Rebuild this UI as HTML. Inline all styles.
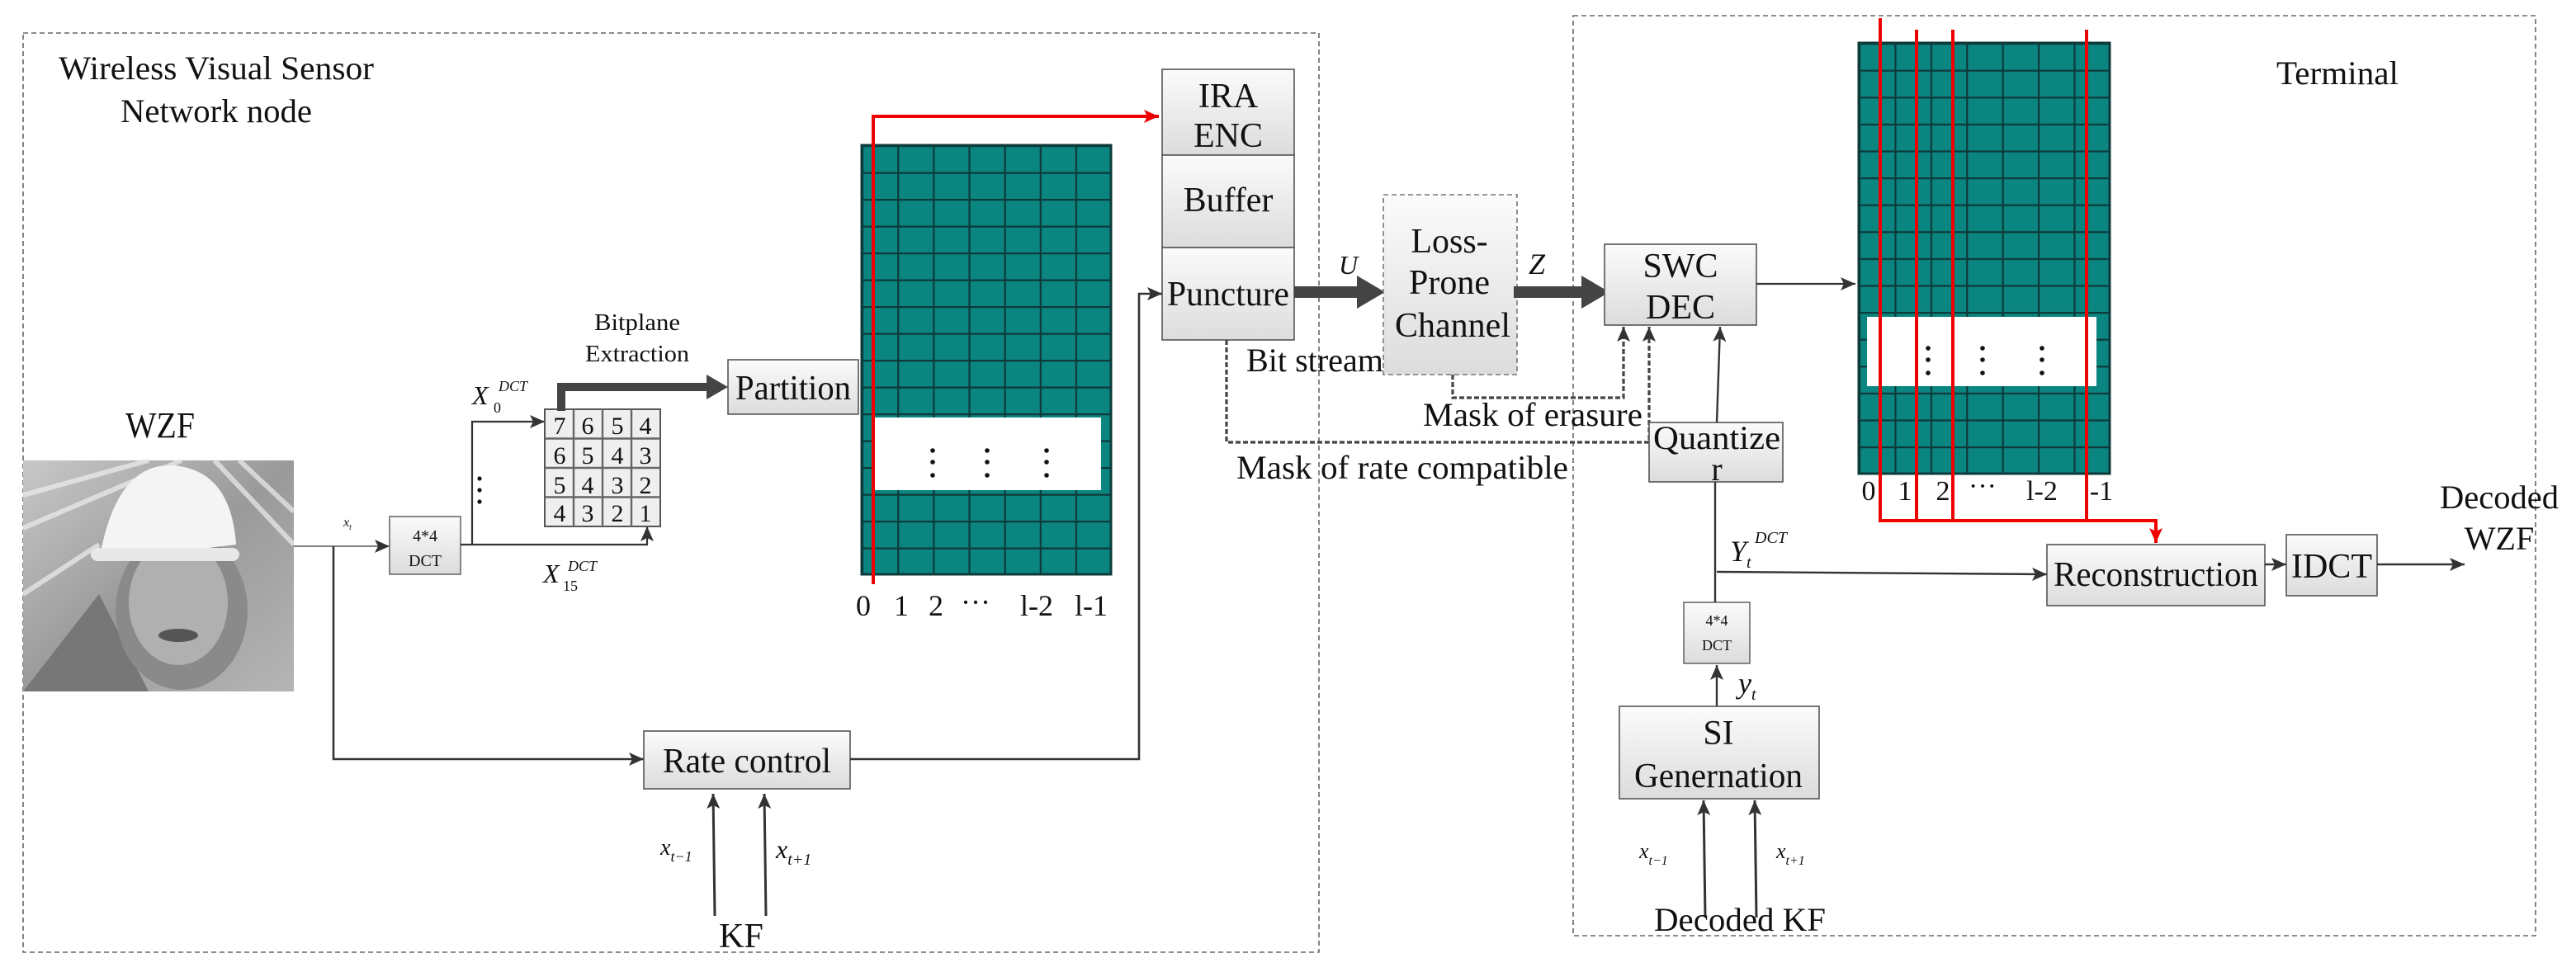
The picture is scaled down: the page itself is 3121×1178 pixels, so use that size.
<!DOCTYPE html>
<html><head><meta charset="utf-8"><style>
html,body{margin:0;padding:0;background:#fff;}
svg{display:block;}
text{font-family:"Liberation Serif",serif;fill:#111;}
</style></head><body>
<svg width="3121" height="1178" viewBox="0 0 1560.5 589" xmlns="http://www.w3.org/2000/svg">
<defs>
<marker id="ar" markerWidth="10" markerHeight="10" refX="9" refY="5" orient="auto" markerUnits="userSpaceOnUse"><path d="M0,1 L9,5 L0,9 L2,5 z" fill="#333"/></marker>
<marker id="arr" markerWidth="10" markerHeight="10" refX="9" refY="5" orient="auto" markerUnits="userSpaceOnUse"><path d="M0,1 L9,5 L0,9 L2,5 z" fill="#e00"/></marker>
<linearGradient id="bx" x1="0" y1="0" x2="0" y2="1"><stop offset="0" stop-color="#fbfbfb"/><stop offset="1" stop-color="#dcdcdc"/></linearGradient>
<pattern id="g1" x="522" y="88" width="21.57" height="16.25" patternUnits="userSpaceOnUse"><rect width="21.57" height="16.25" fill="#0b8580"/><path d="M0,0 V16.25 M0,0 H21.57" stroke="#0d3a3a" stroke-width="2.2"/></pattern>
<pattern id="g2" x="1126" y="26" width="21.7" height="16.3" patternUnits="userSpaceOnUse"><rect width="21.7" height="16.3" fill="#0b8580"/><path d="M0,0 V16.3 M0,0 H21.7" stroke="#0d3a3a" stroke-width="2.2"/></pattern>
<linearGradient id="ph" x1="0" y1="0" x2="1" y2="1"><stop offset="0" stop-color="#c8c8c8"/><stop offset="0.5" stop-color="#9a9a9a"/><stop offset="1" stop-color="#b5b5b5"/></linearGradient>
</defs>

<!-- dashed boxes -->
<rect x="14" y="20" width="785" height="557" fill="none" stroke="#666" stroke-width="0.8" stroke-dasharray="3,2"/>
<rect x="953" y="9.5" width="583" height="557.5" fill="none" stroke="#666" stroke-width="0.8" stroke-dasharray="3,2"/>

<text x="131" y="48" font-size="20" text-anchor="middle" textLength="191" lengthAdjust="spacingAndGlyphs">Wireless Visual Sensor</text>
<text x="131" y="74" font-size="20" text-anchor="middle" textLength="116" lengthAdjust="spacingAndGlyphs">Network node</text>
<text x="97" y="265" font-size="22" text-anchor="middle" textLength="42" lengthAdjust="spacingAndGlyphs">WZF</text>

<!-- photo -->
<rect x="14" y="279" width="164" height="140" fill="url(#ph)"/>
<g stroke="#eee" stroke-width="3" opacity="0.7"><path d="M14,300 L90,279 M14,320 L110,279 M130,279 L178,330 M145,279 L178,310 M14,360 L60,330"/></g>
<path d="M14,419 L60,360 L90,419 z" fill="#777"/>
<ellipse cx="110" cy="370" rx="40" ry="48" fill="#8a8a8a"/>
<ellipse cx="108" cy="365" rx="30" ry="38" fill="#b0b0b0"/>
<path d="M60,340 Q70,280 105,282 Q140,285 143,330 Z" fill="#f4f4f4"/>
<rect x="55" y="332" width="90" height="8" rx="4" fill="#e8e8e8"/>
<ellipse cx="108" cy="385" rx="12" ry="4" fill="#555"/>

<!-- x_t line -->
<line x1="178" y1="331" x2="236" y2="331" stroke="#555" stroke-width="0.8" marker-end="url(#ar)"/>
<text x="208" y="319" font-size="8" font-style="italic">x<tspan font-size="5" dy="2">t</tspan></text>
<polyline points="202,331 202,460 390,460" fill="none" stroke="#333" stroke-width="1.3" marker-end="url(#ar)"/>
<rect x="236" y="313" width="43" height="35" fill="url(#bx)" stroke="#555" stroke-width="0.7"/>
<text x="257.5" y="328" font-size="10" text-anchor="middle">4*4</text>
<text x="257.5" y="343" font-size="10" text-anchor="middle">DCT</text>
<polyline points="279,330 286,330 286,255.5 330,255.5" fill="none" stroke="#333" stroke-width="1.1" marker-end="url(#ar)"/>
<polyline points="286,330 392,330 392,319" fill="none" stroke="#333" stroke-width="1.1" marker-end="url(#ar)"/>
<g fill="#111"><circle cx="290.5" cy="290" r="1.3"/><circle cx="290.5" cy="297" r="1.3"/><circle cx="290.5" cy="304" r="1.3"/></g>
<text x="286" y="245" font-size="16" font-style="italic">X</text><text x="302" y="237" font-size="9" font-style="italic">DCT</text><text x="299" y="250" font-size="9">0</text>
<text x="329" y="353" font-size="16" font-style="italic">X</text><text x="344" y="346" font-size="9" font-style="italic">DCT</text><text x="341" y="358" font-size="9">15</text>

<!-- 4x4 grid -->
<g stroke="#555" stroke-width="1" fill="#efefef">
<rect x="330" y="248" width="70" height="71"/>
</g>
<g stroke="#666" stroke-width="1.2">
<line x1="347.5" y1="248" x2="347.5" y2="319"/><line x1="365" y1="248" x2="365" y2="319"/><line x1="382.5" y1="248" x2="382.5" y2="319"/>
<line x1="330" y1="265.75" x2="400" y2="265.75"/><line x1="330" y1="283.5" x2="400" y2="283.5"/><line x1="330" y1="301.25" x2="400" y2="301.25"/>
</g>
<g font-size="15" text-anchor="middle">
<text x="339" y="263">7</text><text x="356" y="263">6</text><text x="374" y="263">5</text><text x="391" y="263">4</text>
<text x="339" y="281">6</text><text x="356" y="281">5</text><text x="374" y="281">4</text><text x="391" y="281">3</text>
<text x="339" y="299">5</text><text x="356" y="299">4</text><text x="374" y="299">3</text><text x="391" y="299">2</text>
<text x="339" y="316">4</text><text x="356" y="316">3</text><text x="374" y="316">2</text><text x="391" y="316">1</text>
</g>

<!-- thick arrow to partition -->
<polyline points="340,249 340,234.5 431,234.5" fill="none" stroke="#444" stroke-width="5"/>
<path d="M428,227 L441,234.5 L428,242 z" fill="#444"/>
<text x="386" y="200" font-size="14" text-anchor="middle" textLength="52" lengthAdjust="spacingAndGlyphs">Bitplane</text>
<text x="386" y="219" font-size="14" text-anchor="middle" textLength="63" lengthAdjust="spacingAndGlyphs">Extraction</text>
<rect x="441" y="218" width="79" height="33" fill="url(#bx)" stroke="#555" stroke-width="0.8"/>
<text x="480.5" y="242" font-size="21" text-anchor="middle" textLength="70" lengthAdjust="spacingAndGlyphs">Partition</text>

<!-- left teal grid -->
<rect x="522" y="88" width="151" height="260" fill="url(#g1)"/>
<rect x="522" y="88" width="151" height="260" fill="none" stroke="#0d3a3a" stroke-width="1.5"/>
<rect x="528" y="253" width="139" height="44" fill="#fff"/>
<g fill="#111"><circle cx="565" cy="273" r="1.4"/><circle cx="565" cy="280" r="1.4"/><circle cx="565" cy="288" r="1.4"/>
<circle cx="598" cy="273" r="1.4"/><circle cx="598" cy="280" r="1.4"/><circle cx="598" cy="288" r="1.4"/>
<circle cx="634" cy="273" r="1.4"/><circle cx="634" cy="280" r="1.4"/><circle cx="634" cy="288" r="1.4"/></g>
<polyline points="529,354 529,70.5 702,70.5" fill="none" stroke="#e00" stroke-width="2" marker-end="url(#arr)"/>
<g font-size="18" text-anchor="middle"><text x="523" y="373">0</text><text x="546" y="373">1</text><text x="567" y="373">2</text><text x="591" y="371">···</text><text x="628" y="373">l-2</text><text x="661" y="373">l-1</text></g>

<!-- encoder stack -->
<rect x="704" y="42" width="80" height="52" fill="url(#bx)" stroke="#555" stroke-width="0.8"/>
<rect x="704" y="94" width="80" height="56" fill="url(#bx)" stroke="#555" stroke-width="0.8"/>
<rect x="704" y="150" width="80" height="56" fill="url(#bx)" stroke="#555" stroke-width="0.8"/>
<g font-size="21" text-anchor="middle"><text x="744" y="65">IRA</text><text x="744" y="89">ENC</text><text x="744" y="128">Buffer</text><text x="744" y="185" textLength="74" lengthAdjust="spacingAndGlyphs">Puncture</text></g>

<!-- rate control -->
<rect x="390" y="443" width="125" height="35" fill="url(#bx)" stroke="#555" stroke-width="0.8"/>
<text x="452.5" y="468" font-size="21" text-anchor="middle" textLength="102" lengthAdjust="spacingAndGlyphs">Rate control</text>
<polyline points="515,460 690,460 690,178 704,178" fill="none" stroke="#333" stroke-width="1.3" marker-end="url(#ar)"/>
<line x1="433" y1="555" x2="432" y2="481" stroke="#333" stroke-width="1.5" marker-end="url(#ar)"/>
<line x1="464" y1="555" x2="463" y2="481" stroke="#333" stroke-width="1.5" marker-end="url(#ar)"/>
<text x="400" y="518" font-size="14" font-style="italic">x<tspan font-size="9" dy="4">t−1</tspan></text>
<text x="470" y="520" font-size="16" font-style="italic">x<tspan font-size="10" dy="4">t+1</tspan></text>
<text x="449" y="574" font-size="21" text-anchor="middle">KF</text>

<!-- U arrow -->
<line x1="784" y1="177" x2="826" y2="177" stroke="#444" stroke-width="7"/>
<path d="M822,167 L839,177 L822,187 z" fill="#444"/>
<text x="811" y="166" font-size="16" font-style="italic">U</text>
<rect x="838" y="118" width="81" height="109" fill="url(#bx)" stroke="#777" stroke-width="0.8" stroke-dasharray="3,2"/>
<g font-size="21" text-anchor="middle"><text x="878" y="153">Loss-</text><text x="878" y="178">Prone</text><text x="880" y="204">Channel</text></g>
<line x1="917" y1="177" x2="962" y2="177" stroke="#444" stroke-width="7"/>
<path d="M958,167 L975,177 L958,187 z" fill="#444"/>
<text x="926" y="166" font-size="18" font-style="italic">Z</text>
<rect x="972" y="148" width="92" height="49" fill="url(#bx)" stroke="#555" stroke-width="0.8"/>
<g font-size="21" text-anchor="middle"><text x="1018" y="168">SWC</text><text x="1018" y="193">DEC</text></g>
<line x1="1064" y1="172" x2="1124" y2="172" stroke="#333" stroke-width="1.1" marker-end="url(#ar)"/>

<text x="755" y="225" font-size="20" textLength="83" lengthAdjust="spacingAndGlyphs">Bit stream</text>
<polyline points="743,206 743,268 999,268 999,198" fill="none" stroke="#444" stroke-width="1.6" stroke-dasharray="3,1.5" marker-end="url(#ar)"/>
<polyline points="880,227 880,241 983.5,241 983.5,198" fill="none" stroke="#444" stroke-width="1.6" stroke-dasharray="3,1.5" marker-end="url(#ar)"/>
<text x="862" y="258" font-size="20" textLength="133" lengthAdjust="spacingAndGlyphs">Mask of erasure</text>
<text x="749" y="290" font-size="20" textLength="201" lengthAdjust="spacingAndGlyphs">Mask of rate compatible</text>

<!-- quantizer -->
<rect x="999" y="256" width="81" height="36" fill="url(#bx)" stroke="#555" stroke-width="0.8"/>
<text x="1040" y="272" font-size="20" text-anchor="middle" textLength="77" lengthAdjust="spacingAndGlyphs">Quantize</text>
<text x="1040" y="291" font-size="20" text-anchor="middle">r</text>
<line x1="1040" y1="256" x2="1042" y2="198" stroke="#333" stroke-width="1.2" marker-end="url(#ar)"/>
<line x1="1039" y1="292" x2="1039" y2="365" stroke="#333" stroke-width="1.2"/>
<text x="1048" y="340" font-size="18" font-style="italic">Y</text><text x="1063" y="329" font-size="10" font-style="italic">DCT</text><text x="1058" y="344" font-size="10" font-style="italic">t</text>
<line x1="1040" y1="346.5" x2="1240" y2="348" stroke="#333" stroke-width="1.2" marker-end="url(#ar)"/>
<rect x="1020" y="365" width="40" height="37" fill="url(#bx)" stroke="#555" stroke-width="0.7"/>
<text x="1040" y="379" font-size="9" text-anchor="middle">4*4</text>
<text x="1040" y="394" font-size="9" text-anchor="middle">DCT</text>
<line x1="1040" y1="428" x2="1040" y2="403" stroke="#333" stroke-width="1.2" marker-end="url(#ar)"/>
<text x="1053" y="420" font-size="18" font-style="italic">y<tspan font-size="10" dy="4">t</tspan></text>
<rect x="981" y="428" width="121" height="56" fill="url(#bx)" stroke="#555" stroke-width="0.8"/>
<g font-size="21" text-anchor="middle"><text x="1041" y="451">SI</text><text x="1041" y="477" textLength="102" lengthAdjust="spacingAndGlyphs">Genernation</text></g>
<line x1="1033" y1="556" x2="1032" y2="485" stroke="#333" stroke-width="1.5" marker-end="url(#ar)"/>
<line x1="1064" y1="556" x2="1063" y2="485" stroke="#333" stroke-width="1.5" marker-end="url(#ar)"/>
<text x="993" y="520" font-size="13" font-style="italic">x<tspan font-size="8" dy="4">t−1</tspan></text>
<text x="1076" y="520" font-size="13" font-style="italic">x<tspan font-size="8" dy="4">t+1</tspan></text>
<text x="1054" y="564" font-size="20" text-anchor="middle" textLength="104" lengthAdjust="spacingAndGlyphs">Decoded KF</text>

<!-- right teal grid -->
<rect x="1126" y="26" width="152" height="261" fill="url(#g2)"/>
<rect x="1126" y="26" width="152" height="261" fill="none" stroke="#0d3a3a" stroke-width="1.5"/>
<rect x="1131" y="192" width="139" height="42" fill="#fff"/>
<g fill="#111"><circle cx="1168" cy="211" r="1.4"/><circle cx="1168" cy="218" r="1.4"/><circle cx="1168" cy="226" r="1.4"/>
<circle cx="1201" cy="211" r="1.4"/><circle cx="1201" cy="218" r="1.4"/><circle cx="1201" cy="226" r="1.4"/>
<circle cx="1237" cy="211" r="1.4"/><circle cx="1237" cy="218" r="1.4"/><circle cx="1237" cy="226" r="1.4"/></g>
<g font-size="17" text-anchor="middle"><text x="1132" y="303">0</text><text x="1154" y="303">1</text><text x="1177" y="303">2</text><text x="1201" y="300">···</text><text x="1237" y="303">l-2</text><text x="1273" y="303">-1</text></g>
<g stroke="#e00" stroke-width="2" fill="none">
<line x1="1139" y1="11" x2="1139" y2="315.5"/>
<line x1="1161" y1="18" x2="1161" y2="315.5"/>
<line x1="1183" y1="18" x2="1183" y2="315.5"/>
<line x1="1264" y1="18" x2="1264" y2="315.5"/>
<polyline points="1138,315.5 1306,315.5 1306,329" marker-end="url(#arr)"/>
</g>
<text x="1416" y="51" font-size="20" text-anchor="middle" textLength="74" lengthAdjust="spacingAndGlyphs">Terminal</text>

<rect x="1240" y="330" width="132" height="37" fill="url(#bx)" stroke="#555" stroke-width="0.8"/>
<text x="1306" y="355" font-size="21" text-anchor="middle" textLength="124" lengthAdjust="spacingAndGlyphs">Reconstruction</text>
<line x1="1372" y1="342" x2="1385" y2="342" stroke="#333" stroke-width="1.2" marker-end="url(#ar)"/>
<rect x="1385" y="324" width="55" height="37" fill="url(#bx)" stroke="#555" stroke-width="0.8"/>
<text x="1412.5" y="350" font-size="21" text-anchor="middle">IDCT</text>
<line x1="1440" y1="342" x2="1493" y2="342" stroke="#333" stroke-width="1.2" marker-end="url(#ar)"/>
<text x="1514" y="308" font-size="20" text-anchor="middle" textLength="72" lengthAdjust="spacingAndGlyphs">Decoded</text>
<text x="1514" y="333" font-size="20" text-anchor="middle">WZF</text>
</svg>
</body></html>
